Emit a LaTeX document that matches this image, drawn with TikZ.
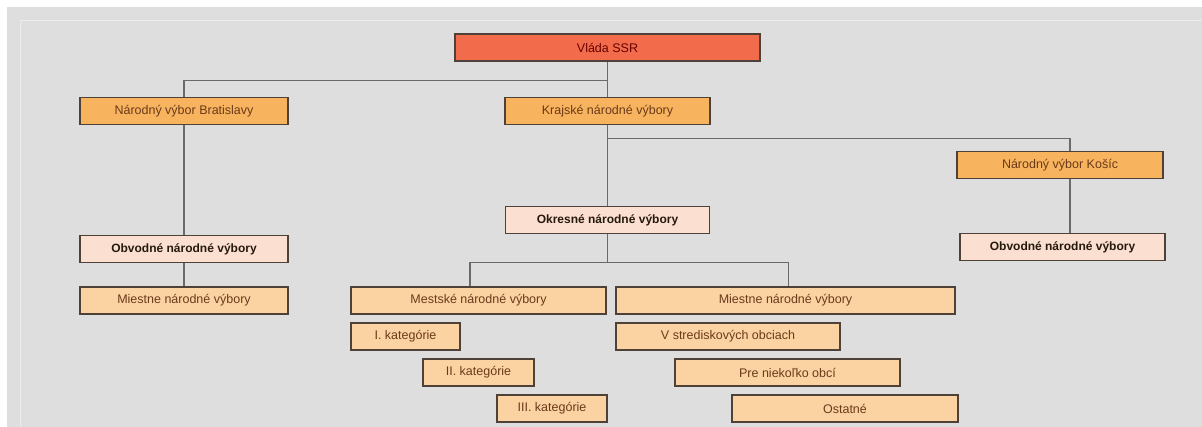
\documentclass[tikz,border=0pt]{standalone}
\usepackage{fontspec}
\setsansfont{Liberation Sans}
\usetikzlibrary{positioning}
\definecolor{panelgray}{HTML}{DEDEDE}
\definecolor{edgebrown}{HTML}{4E4238}
\definecolor{linkgray}{HTML}{6A6A6A}
\definecolor{govred}{HTML}{F26C4C}
\definecolor{regionorange}{HTML}{F7B35E}
\definecolor{okrespink}{HTML}{FBE0D2}
\definecolor{localorange}{HTML}{FBD3A3}
\definecolor{textbrown}{HTML}{6B3A1A}

\begin{document}
\begin{tikzpicture}[
  x=1pt, y=-1pt,
  font=\sffamily\fontsize{12.5}{14}\selectfont,
  unit/.style={draw=edgebrown, line width=1.6pt, inner sep=0pt,
    minimum height=27pt, text=textbrown},
  govbox/.style={unit, fill=govred, text=black!60!red},
  regionbox/.style={unit, fill=regionorange},
  okresbox/.style={unit, fill=okrespink, text=black!80!brown, font=\sffamily\bfseries\fontsize{12}{14}\selectfont},
  localbox/.style={unit, fill=localorange},
  link/.style={draw=linkgray, line width=1.2pt},
]
\useasboundingbox (0,0) rectangle (1202,427);
\fill[panelgray] (7,7) rectangle (1202,427);
\draw[white!85!gray, line width=0.8pt] (20,427) -- (20,20) -- (1202,20);

% ---- top ----
\node[govbox, minimum width=305pt] (vlada) at (607.5,47.5) {Vláda SSR};
\node[regionbox, minimum width=208pt] (bratislava) at (184,111) {Národný výbor Bratislavy};
\node[regionbox, minimum width=205pt] (krajske) at (607.5,111) {Krajské národné výbory};
\node[regionbox, minimum width=206pt] (kosice) at (1060,165) {Národný výbor Košíc};
\draw[link] (vlada.south) -- (krajske.north);
\draw[link] (vlada.south) -- ++(0,19) -| (bratislava.north);
\draw[link] (krajske.south) -- ++(0,13) -| ([xshift=10pt]kosice.north);

% ---- Bratislava branch ----
\node[okresbox, minimum width=208pt] (obvodbl) at (184,249) {Obvodné národné výbory};
\node[localbox, minimum width=208pt] (miestnebl) at (184,300.5) {Miestne národné výbory};
\draw[link] (bratislava.south) -- (obvodbl.north);
\draw[link] (obvodbl.south) -- (miestnebl.north);

% ---- Košice branch ----
\node[okresbox, minimum width=205pt] (obvodke) at (1062.5,247) {Obvodné národné výbory};
\draw[link] ([xshift=10pt]kosice.south) -- ([xshift=7.5pt]obvodke.north);

% ---- districts ----
\node[okresbox, minimum width=204pt] (okresne) at (607.5,220) {Okresné národné výbory};
\draw[link] (krajske.south) -- (okresne.north);
\node[localbox, minimum width=255pt] (mestske) at (478.5,300.5) {Mestské národné výbory};
\node[localbox, minimum width=339pt] (miestne) at (785.5,300.5) {Miestne národné výbory};
\draw[link] (okresne.south) -- ++(0,28) -| ([xshift=-8.5pt]mestske.north);
\draw[link] (okresne.south) -- ++(0,28) -| ([xshift=3pt]miestne.north);

% ---- categories ----
\node[localbox, minimum width=109pt] (kat1) at (405.5,336.5) {I. kategórie};
\node[localbox, minimum width=111pt] (kat2) at (478.5,372.5) {II. kategórie};
\node[localbox, minimum width=110pt] (kat3) at (552,408.5) {III. kategórie};
\node[localbox, minimum width=224pt] (stred) at (728,336.5) {V strediskových obciach};
\node[localbox, minimum width=225pt] (viac) at (787.5,372.5) {Pre niekoľko obcí};
\node[localbox, minimum width=226pt] (ostatne) at (845,408.5) {Ostatné};

\end{tikzpicture}
\end{document}
